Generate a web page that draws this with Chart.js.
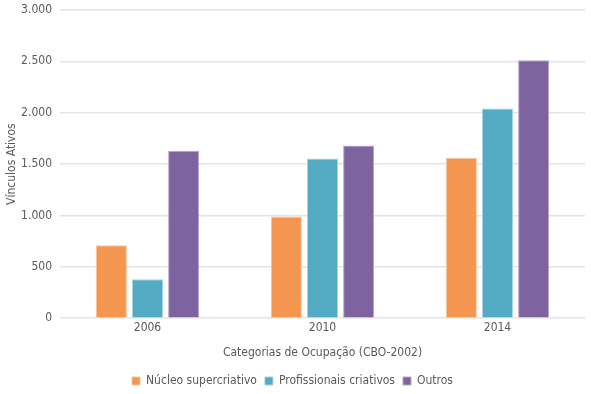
<!DOCTYPE html>
<html>
<head>
<meta charset="utf-8">
<script src="https://cdn.jsdelivr.net/npm/chart.js@4"></script>
<style>
  html, body { margin: 0; padding: 0; background: #fff; }
  #wrap { width: 591px; height: 394px; }
</style>
</head>
<body>
<div id="wrap"><canvas id="chart"></canvas></div>
<script>
// data
const years = ['2006', '2010', '2014'];
const nucleo = [710, 990, 1560];
const profissionais = [380, 1555, 2040];
const outros = [1630, 1680, 2510];

const font = "'DejaVu Sans Condensed', 'Liberation Sans Narrow', sans-serif";
const grey = '#5a5a5a';

Chart.defaults.font.family = font;
Chart.defaults.font.size = 12;
Chart.defaults.color = grey;

new Chart(document.getElementById('chart'), {
  type: 'bar',
  data: {
    labels: years,
    datasets: [
      { label: 'Núcleo supercriativo', data: nucleo, backgroundColor: '#f4964f', borderColor: '#f9c39b', borderWidth: 1 },
      { label: 'Profissionais criativos', data: profissionais, backgroundColor: '#52abc3', borderColor: '#a3d4e1', borderWidth: 1 },
      { label: 'Outros', data: outros, backgroundColor: '#7e649e', borderColor: '#b6a5c9', borderWidth: 1 }
    ]
  },
  options: {
    responsive: true,
    maintainAspectRatio: false,
    animation: false,
    categoryPercentage: 0.62,
    barPercentage: 0.86,
    layout: { autoPadding: false, padding: { top: 10, right: 6, left: 0, bottom: -3 } },
    plugins: {
      legend: {
        position: 'bottom',
        labels: {
          boxWidth: 8,
          boxHeight: 8,
          padding: 8,
          font: { size: 12 }
        }
      },
      tooltip: { enabled: false }
    },
    scales: {
      x: {
        grid: { display: false, drawTicks: false },
        border: { display: false },
        ticks: { padding: 2 },
        title: { display: true, text: 'Categorias de Ocupação (CBO-2002)', padding: { top: 9, bottom: 7 } }
      },
      y: {
        min: 0,
        max: 3000,
        afterFit: scale => { scale.width = 60; scale.paddingTop = 0; },
        ticks: {
          stepSize: 500,
          padding: 8,
          callback: v => v.toLocaleString('pt-BR')
        },
        grid: { color: '#e4e4e4', lineWidth: 1.5, drawTicks: false },
        border: { display: false },
        title: { display: true, text: 'Vínculos Ativos', padding: { top: 5, bottom: 0 } }
      }
    }
  }
});
</script>
</body>
</html>
